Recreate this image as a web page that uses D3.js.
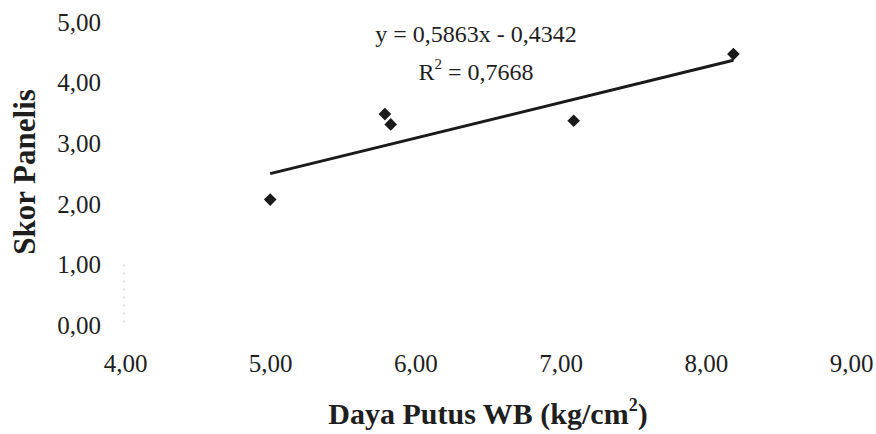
<!DOCTYPE html>
<html>
<head>
<meta charset="utf-8">
<script src="https://cdn.jsdelivr.net/npm/d3@7"></script>
<style>
  body { margin: 0; background: #fff; }
  svg { display: block; }
</style>
</head>
<body>
<script>
(function(){

	// chart data
	var dayaPutus = [5.00, 5.79, 5.83, 7.09, 8.19];
	var skorPanelis = [2.07, 3.48, 3.31, 3.37, 4.47];
	var xTicks = [4, 5, 6, 7, 8, 9];
	var yTicks = [0, 1, 2, 3, 4, 5];
	var slope = 0.5863,
		intercept = -0.4342,
		rSquared = 0.7668;

	var serif = "'Liberation Serif', 'Times New Roman', monospace";
	var ink = "#1e1e1e";

	var width = 876,
		height = 434;

	var svg = d3.select("body")
		.append("svg")
		.attr("width", width)
		.attr("height", height);

	var x = d3.scaleLinear().domain([4, 9]).range([125, 851]);
	var y = d3.scaleLinear().domain([0, 5]).range([325, 22]);

	// comma as decimal separator
	var fmt = function(v){ return d3.format(".2f")(v).replace(".", ","); };

	//x axis, labels only
	var xAxis = svg.append("g")
		.attr("transform", "translate(0,350)")
		.call(d3.axisBottom(x).tickValues(xTicks).tickFormat(fmt).tickSize(0).tickPadding(0));
	xAxis.attr("font-family", null).attr("font-size", null);
	xAxis.select(".domain").remove();
	xAxis.selectAll("text")
		.attr("dy", "0")
		.attr("y", 22)
		.style("font-size", "25px")
		.style("font-family", serif)
		.style("fill", ink);

	//y axis, labels only
	var yAxis = svg.append("g")
		.attr("transform", "translate(101,0)")
		.call(d3.axisLeft(y).tickValues(yTicks).tickFormat(fmt).tickSize(0).tickPadding(0));
	yAxis.attr("font-family", null).attr("font-size", null);
	yAxis.select(".domain").remove();
	yAxis.selectAll("text")
		.attr("dy", "0.33em")
		.style("font-size", "25px")
		.style("font-family", serif)
		.style("fill", ink);

	//faint leftover of the axis line in the scan
	svg.append("line")
		.attr("x1", x(4) - 1).attr("x2", x(4) - 1)
		.attr("y1", y(1)).attr("y2", y(0))
		.attr("stroke", "#bbb")
		.attr("stroke-width", 1)
		.attr("stroke-dasharray", "2,6");

	//trend line over the data range
	var xExt = d3.extent(dayaPutus);
	svg.append("line")
		.attr("x1", x(xExt[0]))
		.attr("y1", y(slope * xExt[0] + intercept))
		.attr("x2", x(xExt[1]))
		.attr("y2", y(slope * xExt[1] + intercept))
		.attr("stroke", "#1a1a1a")
		.attr("stroke-width", 3);

	//diamond markers
	var diamond = d3.symbol().type(d3.symbolSquare).size(80);
	svg.selectAll(".pt")
		.data(dayaPutus)
		.enter()
		.append("path")
		.attr("class", "pt")
		.attr("d", diamond)
		.attr("transform", function(d, i){
			return "translate(" + x(d) + "," + y(skorPanelis[i]) + ") rotate(45)";
		})
		.attr("fill", "#1a1a1a");

	//equation label
	svg.append("text")
		.attr("x", 476)
		.attr("y", 42)
		.attr("text-anchor", "middle")
		.style("font-family", serif)
		.style("fill", ink)
		.style("font-size", "24px")
		.text("y = " + d3.format(".4f")(slope).replace(".", ",") + "x - " +
			d3.format(".4f")(Math.abs(intercept)).replace(".", ","));

	var r2 = svg.append("text")
		.attr("x", 476)
		.attr("y", 80)
		.attr("text-anchor", "middle")
		.style("font-family", serif)
		.style("fill", ink)
		.style("font-size", "24px");
	r2.append("tspan").text("R");
	r2.append("tspan").attr("dy", -11).style("font-size", "15px").text("2");
	r2.append("tspan").attr("dy", 11).text(" = " + d3.format(".4f")(rSquared).replace(".", ","));

	//axis titles
	var xTitle = svg.append("text")
		.attr("x", 488)
		.attr("y", 424)
		.attr("text-anchor", "middle")
		.style("font-family", serif)
		.style("fill", ink)
		.style("font-size", "30px")
		.style("font-weight", "bold");
	xTitle.append("tspan").text("Daya Putus WB (kg/cm");
	xTitle.append("tspan").attr("dy", -13).style("font-size", "18px").text("2");
	xTitle.append("tspan").attr("dy", 13).text(")");

	svg.append("text")
		.attr("transform", "translate(35,172) rotate(-90)")
		.attr("text-anchor", "middle")
		.style("font-family", serif)
		.style("fill", ink)
		.style("font-size", "31px")
		.style("font-weight", "bold")
		.text("Skor Panelis");

})();
</script>
</body>
</html>
